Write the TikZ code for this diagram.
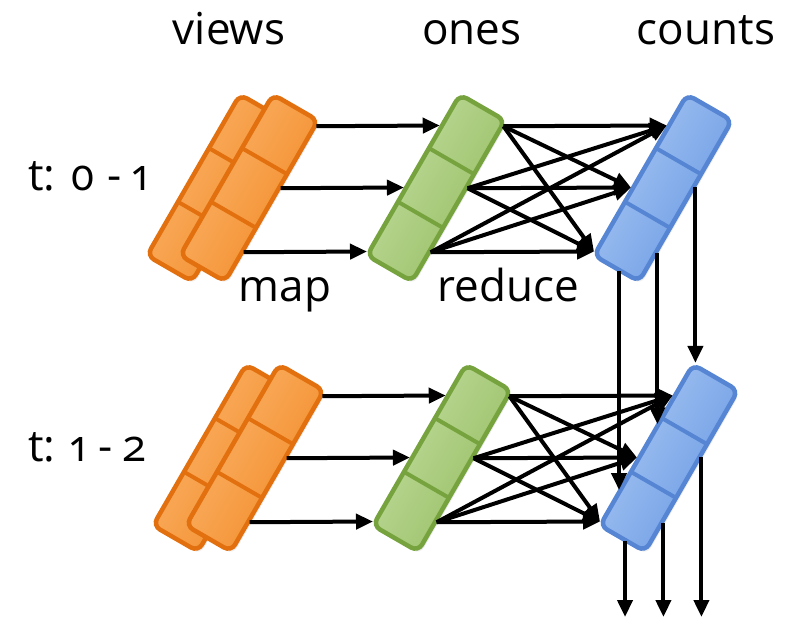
\documentclass[tikz,border=0pt]{standalone}
\usepackage{fontspec}
\setmainfont{Open Sans}[Numbers=OldStyle]
\usetikzlibrary{arrows.meta,shadows,calc}

\definecolor{orangeline}{HTML}{E2700F}
\definecolor{orangelight}{HTML}{FBB46C}
\definecolor{orangedark}{HTML}{F28A25}
\definecolor{greenline}{HTML}{76A33E}
\definecolor{greenlight}{HTML}{C4DDA0}
\definecolor{greendark}{HTML}{93BD60}
\definecolor{blueline}{HTML}{5585D3}
\definecolor{bluelight}{HTML}{A9C8F4}
\definecolor{bluedark}{HTML}{6898E2}

% three cells of a bar: dividers at one and two thirds of its length
\newcommand\barcells[2]{%
  \draw[#2, line width=4pt]
    ($(#1.north west)!1/3!(#1.north east)$) -- ($(#1.south west)!1/3!(#1.south east)$)
    ($(#1.north west)!2/3!(#1.north east)$) -- ($(#1.south west)!2/3!(#1.south east)$);}

% connection points of a bar, in its own rotated frame
% o = outputs on the right edge, i = inputs on the left edge,
% d = downward outputs, t = inputs of the downward lines
\newcommand\barports[1]{%
  \begin{scope}[shift={(#1.center)}, rotate=60]
    \coordinate (#1-o1) at (87.2,-27.5);
    \coordinate (#1-o2) at (15.6,-27.5);
    \coordinate (#1-o3) at (-58.3,-27.5);
    \coordinate (#1-i1) at (56,28);
    \coordinate (#1-i2) at (-15.6,28);
    \coordinate (#1-i3) at (-89.5,28);
    \coordinate (#1-d1) at (-94,-3.5);
    \coordinate (#1-d2) at (-58.8,-27.5);
    \coordinate (#1-d3) at (17.2,-27.5);
    \coordinate (#1-t1) at (-53.2,28);
    \coordinate (#1-t2) at (22.8,28);
    \coordinate (#1-t3) at (96,24);
  \end{scope}}

\begin{document}
\begin{tikzpicture}[x=1pt, y=1pt,
  bar/.style={rectangle, rotate=60, minimum width=186pt, minimum height=52pt,
    inner sep=0pt, outer sep=0pt, rounded corners=8pt, line width=4.5pt,
    drop shadow={shadow xshift=2pt, shadow yshift=-3pt, opacity=0.15}},
  orangebar/.style={bar, draw=orangeline, top color=orangelight, bottom color=orangedark, shading angle=60},
  greenbar/.style={bar, draw=greenline, top color=greenlight, bottom color=greendark, shading angle=60},
  bluebar/.style={bar, draw=blueline, top color=bluelight, bottom color=bluedark, shading angle=60},
  arr/.style={line width=4pt, -{Triangle[length=17pt, width=15pt]}},
  lbl/.style={font=\fontsize{44}{52}\selectfont, inner sep=0pt, text=black}]

\useasboundingbox (0,0) rectangle (792,627);

% column headings
\node[lbl, anchor=base] (hviews) at (229,582) {views};
\node[lbl, anchor=base] (hones) at (472,582) {ones};
\node[lbl, anchor=base] (hcounts) at (706,582) {counts};

% time windows
\node[lbl, anchor=base west] (time1) at (28,436) {t: 0 - 1};
\node[lbl, anchor=base west] (time2) at (28,166) {t: 1 - 2};

% first window
\node[orangebar] (va) at (216,439) {};
\barcells{va}{orangeline}
\node[orangebar] (vb) at (249,439) {};
\barcells{vb}{orangeline}
\node[greenbar] (oa) at (436,439) {};
\barcells{oa}{greenline}
\node[bluebar] (ca) at (663,439) {};
\barcells{ca}{blueline}

% second window
\node[orangebar] (vc) at (222,169) {};
\barcells{vc}{orangeline}
\node[orangebar] (vd) at (255,169) {};
\barcells{vd}{orangeline}
\node[greenbar] (ob) at (442,169) {};
\barcells{ob}{greenline}
\node[bluebar] (cb) at (669,169) {};
\barcells{cb}{blueline}

\barports{vb}
\barports{oa}
\barports{ca}
\barports{vd}
\barports{ob}
\barports{cb}
\coordinate (outlevel) at (0,10);

% stage labels
\node[lbl, anchor=base] (lmap) at (285,325) {map};
\node[lbl, anchor=base] (lreduce) at (508,325) {reduce};

% map
\foreach \k in {1,2,3} {
  \draw[arr] (vb-o\k) -- (oa-i\k);
  \draw[arr] (vd-o\k) -- (ob-i\k);
}
% reduce: every cell to every cell
\foreach \j in {1,2,3} {
  \foreach \k in {1,2,3} {
    \draw[arr] (oa-o\j) -- (ca-i\k);
    \draw[arr] (ob-o\j) -- (cb-i\k);
  }
}
% running counts carried down
\foreach \k in {1,2,3} {
  \draw[arr] (ca-d\k) -- (ca-d\k |- cb-t\k);
  \draw[arr] (cb-d\k) -- (cb-d\k |- outlevel);
}
\end{tikzpicture}
\end{document}
